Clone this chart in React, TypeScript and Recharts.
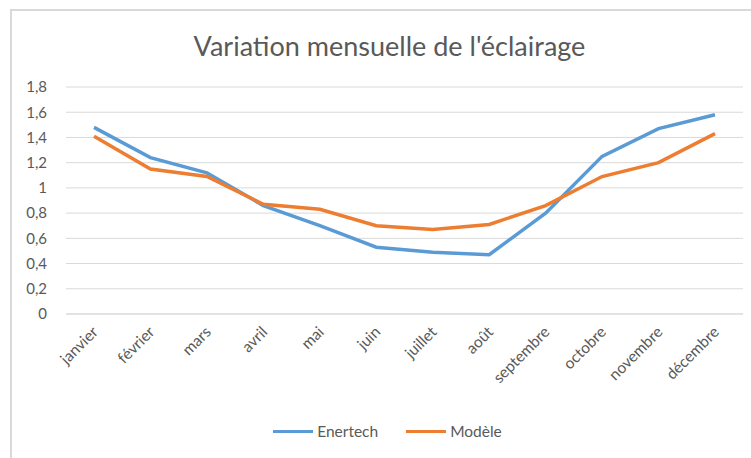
import React from 'react';
import { CartesianGrid, Legend, Line, LineChart, XAxis, YAxis } from 'recharts';

const mois = [
  'janvier', 'février', 'mars', 'avril', 'mai', 'juin',
  'juillet', 'août', 'septembre', 'octobre', 'novembre', 'décembre',
];
const enertech = [1.48, 1.24, 1.12, 0.86, 0.7, 0.53, 0.49, 0.47, 0.8, 1.25, 1.47, 1.58];
const modele = [1.41, 1.15, 1.09, 0.87, 0.83, 0.7, 0.67, 0.71, 0.86, 1.09, 1.2, 1.43];
const yTicks = [0, 0.2, 0.4, 0.6, 0.8, 1, 1.2, 1.4, 1.6, 1.8];

const data = mois.map((m, i) => ({ mois: m, Enertech: enertech[i], Modele: modele[i] }));

const FONT = 'Lato, "Open Sans", sans-serif';
const TEXT = '#595959';
const GRID = '#d9d9d9';
const BLUE = '#5b9bd5';
const ORANGE = '#ed7d31';

const fmt = (v: number) => (Number.isInteger(v) ? String(v) : v.toFixed(1).replace('.', ','));

function MonthTick({ x, y, payload }: any) {
  const ax = x + 5;
  const ay = y + 11;
  return (
    <text
      x={ax}
      y={ay}
      transform={`rotate(-45 ${ax} ${ay})`}
      textAnchor="end"
      fontSize={15.5}
      fontFamily={FONT}
      fill={TEXT}
    >
      {payload.value}
    </text>
  );
}

function ChartLegend() {
  const items = [
    { name: 'Enertech', color: BLUE },
    { name: 'Modèle', color: ORANGE },
  ];
  return (
    <div style={{ display: 'flex', justifyContent: 'center', gap: 28, paddingLeft: 22, fontFamily: FONT, fontSize: 15.5, color: TEXT }}>
      {items.map((it) => (
        <div key={it.name} style={{ display: 'flex', alignItems: 'center', gap: 4 }}>
          <span style={{ display: 'inline-block', width: 40, height: 3, background: it.color }} />
          <span>{it.name}</span>
        </div>
      ))}
    </div>
  );
}

export default function App() {
  return (
    <div style={{ position: 'absolute', left: 0, top: 0, width: 751, height: 458, background: '#fff', overflow: 'hidden' }}>
      <div style={{
        position: 'absolute', left: 10, top: 9, width: 760, height: 470,
        borderLeft: `2px solid ${GRID}`, borderTop: `2px solid ${GRID}`,
      }} />
      <div style={{
        position: 'absolute', left: 14, top: 27, width: 751, textAlign: 'center',
        fontFamily: FONT, fontSize: 27, color: TEXT, lineHeight: '38px',
      }}>
        Variation mensuelle de l'éclairage
      </div>
      <div style={{ position: 'absolute', left: 0, top: 0 }}>
        <LineChart width={751} height={458} data={data} margin={{ top: 87, right: 8, left: 10, bottom: 12 }}>
          <CartesianGrid vertical={false} stroke={GRID} />
          <XAxis
            dataKey="mois"
            interval={0}
            tickLine={false}
            axisLine={{ stroke: GRID }}
            height={108}
            padding={{ left: 28, right: 28 }}
            tick={<MonthTick />}
          />
          <YAxis
            domain={[0, 1.8]}
            ticks={yTicks}
            tickFormatter={fmt}
            axisLine={false}
            tickLine={false}
            width={56}
            tickMargin={13}
            tick={{ fontSize: 15, fill: TEXT, fontFamily: FONT }}
          />
          <Legend verticalAlign="bottom" height={24} content={<ChartLegend />} />
          <Line type="linear" dataKey="Enertech" stroke={BLUE} strokeWidth={3.5} dot={false} isAnimationActive={false} />
          <Line type="linear" dataKey="Modele" name="Modèle" stroke={ORANGE} strokeWidth={3.5} dot={false} isAnimationActive={false} />
        </LineChart>
      </div>
    </div>
  );
}
